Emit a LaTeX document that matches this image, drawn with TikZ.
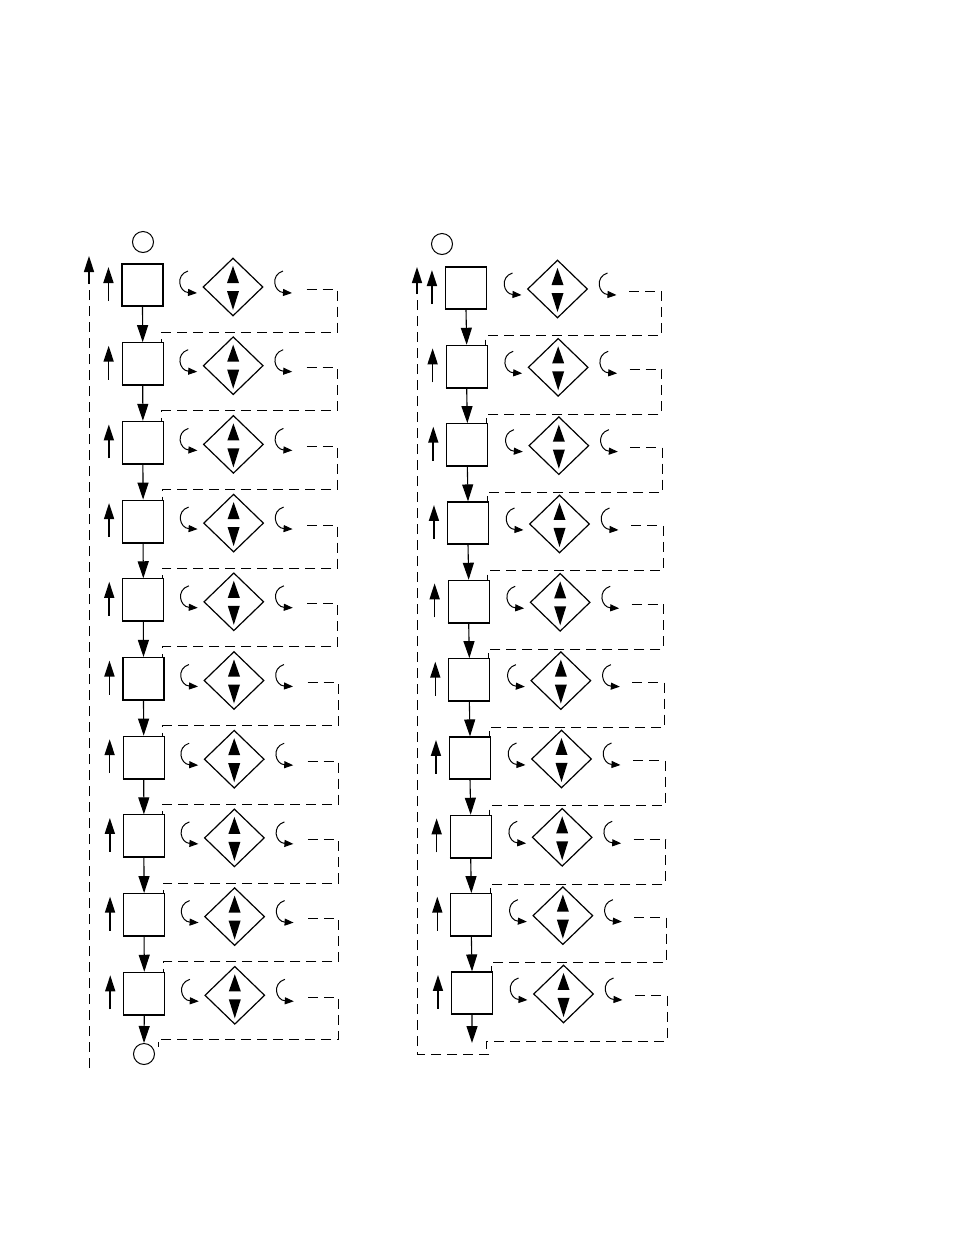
\documentclass[tikz,border=0pt]{standalone}
\usetikzlibrary{arrows.meta,shapes.geometric,calc}
\begin{document}
\begin{tikzpicture}[x=1pt,y=-1pt,
  boxn/.style={draw,line width=1.1pt,minimum width=41pt,minimum height=42pt,inner sep=0pt},
  dia/.style={draw,diamond,line width=1.2pt,minimum width=60pt,minimum height=58pt,inner sep=0pt},
  circ/.style={draw,circle,line width=1pt,minimum size=21pt,inner sep=0pt},
  flow/.style={line width=1.1pt,-{Triangle[length=17pt,width=11pt]}},
  uparr/.style={line width=1.6pt,-{Triangle[length=16pt,width=10pt]}},
  ret/.style={line width=1pt,dash pattern=on 10pt off 6pt},
  curv/.style={line width=1pt,-{Triangle[length=9pt,width=7pt]}}]
\useasboundingbox (0,0) rectangle (954,1235);

% ---------- left column ----------
\node[circ] (cLt) at (143,242) {};
\node[circ] (cLb) at (144,1054) {};
\foreach \i in {1,...,10} {
  \pgfmathsetmacro\by{285+78.7*(\i-1)}
  \pgfmathsetmacro\bx{142.5+0.2*(\i-1)}
  \node[boxn] (bL\i) at (\bx,\by) {};
  \draw[line width=1.8pt] (bL\i.south west) -- (bL\i.south east);
  \node[dia] (dL\i) at (\bx+90.5,\by+2) {};
  \fill ($(dL\i)+(0,-21)$) -- ($(dL\i)+(-6,-4)$) -- ($(dL\i)+(6,-4)$) -- cycle;
  \fill ($(dL\i)+(0,23)$) -- ($(dL\i)+(-6,4)$) -- ($(dL\i)+(6,4)$) -- cycle;
  \coordinate (uaL\i) at ($(bL\i.west)+(-13,16)$);
  \coordinate (utL\i) at ($(bL\i.west)+(-13,-18)$);
  \draw[uparr] (uaL\i) -- (utL\i);
  \draw[curv] ($(dL\i)+(-45,-16)$) .. controls ($(dL\i)+(-58,-12)$) and ($(dL\i)+(-54,5)$) .. ($(dL\i)+(-36,6)$);
  \draw[curv] ($(dL\i)+(50,-16)$) .. controls ($(dL\i)+(37,-12)$) and ($(dL\i)+(41,5)$) .. ($(dL\i)+(59,6)$);
  \coordinate (rL\i) at (\bx+164,\by+4);
}
\foreach \i in {1,...,9} {
  \pgfmathtruncatemacro\j{\i+1}
  \draw[flow] (bL\i.south) -- (bL\j.north);
  \draw[ret] (rL\i) -- ++(30.5,0) |- ($(bL\j.north east)+(-2,-10)$) -- ($(bL\j.north east)+(-2,0)$);
}
\draw[flow] (bL10.south) -- (cLb.north);
\draw[ret] (rL10) -- ++(30.5,0) |- ($(cLb.east)+(3,-15)$) -- ($(cLb.east)+(3,-7)$);
\coordinate (lLb) at (89,1068);
\coordinate (lLm) at (89,280);
\coordinate (lLt) at (89,256);
\draw[ret] (lLb) -- (lLm);
\draw[uparr] ($(lLm)+(0,4)$) -- (lLt);

% ---------- right column ----------
\node[circ] (cRt) at (442,244) {};
\foreach \i in {1,...,10} {
  \pgfmathsetmacro\by{288+78.33*(\i-1)}
  \pgfmathsetmacro\bx{466+0.67*(\i-1)}
  \node[boxn] (bR\i) at (\bx,\by) {};
  \draw[line width=1.8pt] (bR\i.south west) -- (bR\i.south east);
  \node[dia] (dR\i) at (\bx+91.5,\by+1) {};
  \fill ($(dR\i)+(0,-21)$) -- ($(dR\i)+(-6,-4)$) -- ($(dR\i)+(6,-4)$) -- cycle;
  \fill ($(dR\i)+(0,23)$) -- ($(dR\i)+(-6,4)$) -- ($(dR\i)+(6,4)$) -- cycle;
  \coordinate (uaR\i) at ($(bR\i.west)+(-13,16)$);
  \coordinate (utR\i) at ($(bR\i.west)+(-13,-18)$);
  \draw[uparr] (uaR\i) -- (utR\i);
  \draw[curv] ($(dR\i)+(-45,-16)$) .. controls ($(dR\i)+(-58,-12)$) and ($(dR\i)+(-54,5)$) .. ($(dR\i)+(-36,6)$);
  \draw[curv] ($(dR\i)+(50,-16)$) .. controls ($(dR\i)+(37,-12)$) and ($(dR\i)+(41,5)$) .. ($(dR\i)+(59,6)$);
  \coordinate (rR\i) at (\bx+163,\by+3);
}
\foreach \i in {1,...,9} {
  \pgfmathtruncatemacro\j{\i+1}
  \draw[flow] (bR\i.south) -- (bR\j.north);
  \draw[ret] (rR\i) -- ++(32,0) |- ($(bR\j.north east)+(-2,-9)$) -- ($(bR\j.north east)+(-2,0)$);
}
\coordinate (eR) at (472,1043);
\draw[flow] (bR10.south) -- (eR);
\coordinate (rEnd) at (486,1049);
\draw[ret] (rR10) -- ++(32,0) |- ($(rEnd)+(0,-8)$) -- (rEnd);
\coordinate (lRb) at (489,1054);
\coordinate (lRm) at (417,290);
\coordinate (lRt) at (417,267);
\draw[ret] (lRb) -| (lRm);
\draw[uparr] ($(lRm)+(0,4)$) -- (lRt);
\end{tikzpicture}
\end{document}
